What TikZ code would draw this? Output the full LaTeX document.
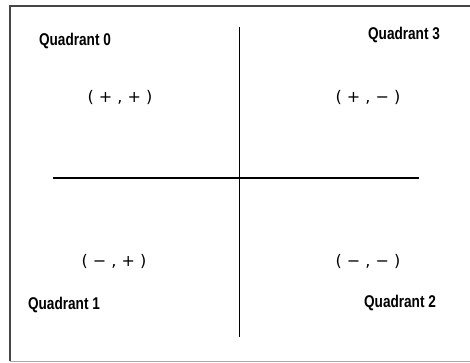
\documentclass[tikz,border=0pt]{standalone}
\usepackage{fontspec}
\setmainfont{Liberation Sans}
\newfontfamily\signfont{DejaVu Sans}
\usetikzlibrary{positioning}
\definecolor{cadre}{RGB}{70,70,70}
\definecolor{grisB}{RGB}{170,170,170}
\tikzset{
  quadlbl/.style={font=\fontsize{17}{18}\selectfont\bfseries, inner sep=0pt, xscale=0.8},
  signe/.style={font=\signfont\fontsize{16}{17}\selectfont, inner sep=0pt},
  axe/.style={line width=1.6pt, draw=black},
}

\begin{document}
\begin{tikzpicture}[x=1pt, y=-1pt]
  \useasboundingbox (0,0) rectangle (470,362);
  % cadre
  \coordinate (hg) at (10,6);
  \coordinate (hd) at (470,6);
  \coordinate (bg) at (10,361);
  \coordinate (bd) at (470,361);
  \draw[cadre, line width=2pt] (hd) -- (hg) -- (bg);
  \draw[grisB, line width=1pt] (bg) -- (bd);
  % axes
  \coordinate (vh) at (239.5,27);
  \coordinate (vb) at (239.5,337);
  \coordinate (hgx) at (53,178);
  \coordinate (hdx) at (419,178);
  \draw[axe] (vh) -- (vb);
  \draw[axe] (hgx) -- (hdx);
  % quadrants
  \node[quadlbl] (q0) at (75,41) {Quadrant 0};
  \node[quadlbl] (q3) at (404,35) {Quadrant 3};
  \node[quadlbl] (q1) at (64,305) {Quadrant 1};
  \node[quadlbl] (q2) at (400,303) {Quadrant 2};
  \node[signe] (s0) at (120,97) {( + , + )};
  \node[signe] (s3) at (368,97) {( + , − )};
  \node[signe] (s1) at (114,261) {( − , + )};
  \node[signe] (s2) at (368,261) {( − , − )};
\end{tikzpicture}
\end{document}
